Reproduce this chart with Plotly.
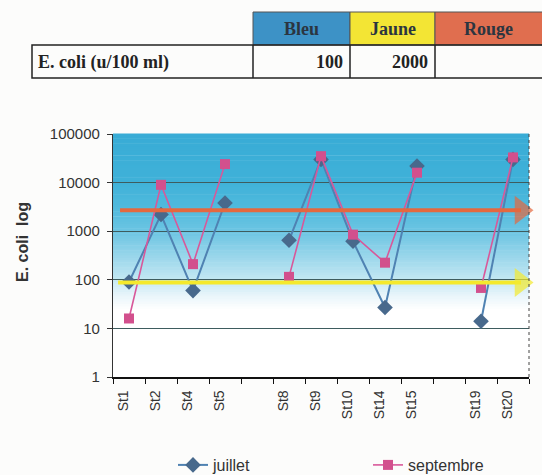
import numpy as np
import plotly.graph_objects as go

# Stations (les cases vides = stations non prélevées)
stations = ["St1", "St2", "St4", "St5", "", "St8", "St9", "St10", "St14", "St15", "", "St19", "St20"]

# E. coli (u/100 ml)
juillet = [90, 2200, 60, 3800, None, 650, 30000, 620, 27, 22000, None, 14, 30000]
septembre = [16, 9000, 210, 24000, None, 115, 35000, 850, 225, 16000, None, 68, 33000]

# seuils dessinés à la main (flèches)
seuil_orange = 2700
seuil_jaune = 88

# petit tableau du haut
tab_entetes = ["Bleu", "Jaune", "Rouge"]
tab_valeurs = ["100", "2000", ""]
tab_couleurs = ["#3d92c6", "#f3e534", "#e06e4f"]

W, H = 542, 475
x0px, x1px = 113, 529
ytop, ybot = 134, 377

x = list(range(len(stations)))

fig = go.Figure()

fig.add_trace(go.Scatter(
    x=x, y=juillet, name="juillet", mode="lines+markers",
    line=dict(color="#4f82b2", width=2),
    marker=dict(symbol="diamond", size=12, color="#48698c"),
    legend="legend",
))
fig.add_trace(go.Scatter(
    x=x, y=septembre, name="septembre", mode="lines+markers",
    line=dict(color="#d8589a", width=1.6),
    marker=dict(symbol="square", size=10, color="#d2508d"),
    legend="legend2",
))

# flèches des seuils
for val, col, xs in [(seuil_orange, "#e4683f", -0.28), (seuil_jaune, "#f4e92c", -0.34)]:
    fig.add_trace(go.Scatter(
        x=[xs, 12.25], y=[val, val], mode="lines+markers", showlegend=False,
        line=dict(color=col, width=4),
        marker=dict(symbol="triangle-right", size=[0, 25], color=col, line_width=0),
        cliponaxis=False, hoverinfo="skip",
    ))

# dégradé bleu du fond (de 10 à 100000)
stops = [(1.0, "#ffffff"), (1.4, "#ffffff"), (1.7, "#e6f5fa"), (2.0, "#c4e8f3"),
         (2.5, "#98d6eb"), (3.0, "#6cc5e3"), (3.5, "#50badd"), (4.0, "#40b2d9"), (5.0, "#39acd6")]
sl = [s[0] for s in stops]
rgb = [tuple(int(c[i:i + 2], 16) for i in (1, 3, 5)) for _, c in stops]
nb = 80
edges = np.linspace(1, 5, nb + 1)
shapes = []
for a, b in zip(edges[:-1], edges[1:]):
    m = (a + b) / 2
    c = [int(np.interp(m, sl, [r[k] for r in rgb])) for k in range(3)]
    shapes.append(dict(type="rect", xref="x domain", yref="y domain",
                       x0=0, x1=1, y0=a / 5, y1=b / 5 + 0.002,
                       fillcolor="rgb(%d,%d,%d)" % tuple(c), line_width=0, layer="below"))
# bord droit pointillé
shapes.append(dict(type="line", xref="x domain", yref="y domain", x0=1, x1=1, y0=0, y1=1,
                   line=dict(color="#444", width=1, dash="dot")))

# tableau
cols = [253, 350, 435, 545]
for i in range(3):
    shapes.append(dict(type="rect", xref="paper", yref="paper",
                       x0=cols[i] / W, x1=cols[i + 1] / W, y0=1 - 45 / H, y1=1 - 12 / H,
                       fillcolor=tab_couleurs[i], line=dict(color="#555", width=1)))
shapes.append(dict(type="rect", xref="paper", yref="paper",
                   x0=32 / W, x1=545 / W, y0=1 - 78 / H, y1=1 - 45 / H,
                   line=dict(color="#222", width=1.5)))
for c in cols[:3]:
    shapes.append(dict(type="line", xref="paper", yref="paper",
                       x0=c / W, x1=c / W, y0=1 - 78 / H, y1=1 - 45 / H,
                       line=dict(color="#222", width=1.5)))

ann = []
serif = dict(family="Liberation Serif", size=18, color="#222")
for i, t in enumerate(tab_entetes):
    ann.append(dict(text="<b>%s</b>" % t, xref="paper", yref="paper",
                    x=(cols[i] + min(cols[i + 1], W)) / 2 / W, y=1 - 29 / H,
                    xanchor="center", yanchor="middle",
                    showarrow=False, font=dict(family="Liberation Serif", size=18, color="#2b3540")))
for i, v in enumerate(tab_valeurs):
    ann.append(dict(text="<b>%s</b>" % v, xref="paper", yref="paper",
                    x=(cols[i + 1] - 5) / W, y=1 - 62 / H, xanchor="right", yanchor="middle",
                    showarrow=False, font=serif))
ann.append(dict(text="<b>E. coli (u/100 ml)</b>", xref="paper", yref="paper",
                x=36 / W, y=1 - 62 / H, xanchor="left", yanchor="middle",
                showarrow=False, font=serif))
ann.append(dict(text="<b>E. coli  log</b>", xref="paper", yref="paper",
                x=22 / W, y=1 - 242 / H, textangle=-90, showarrow=False,
                xanchor="center", yanchor="middle",
                font=dict(family="Liberation Sans", size=16, color="#333")))

leg = dict(orientation="h", y=1 - 465 / H, xanchor="left", yanchor="middle",
           bgcolor="rgba(0,0,0,0)", font=dict(size=16, color="#333"))
fig.update_layout(
    width=W, height=H,
    margin=dict(l=0, r=0, t=0, b=0, autoexpand=False),
    paper_bgcolor="#fcfcfb", plot_bgcolor="#ffffff",
    font=dict(family="Liberation Sans", size=14, color="#333"),
    shapes=shapes, annotations=ann,
    showlegend=True,
    legend=dict(leg, x=173 / W),
    legend2=dict(leg, x=368 / W),
)
fig.update_xaxes(
    domain=[x0px / W, x1px / W], range=[-0.5, 12.5],
    tickmode="array", tickvals=[i - 0.18 for i in x], ticktext=stations, tickangle=-90,
    ticks="", showgrid=False, zeroline=False, ticklabelstandoff=6,
    showline=True, linecolor="#111", linewidth=1.5,
    tickfont=dict(size=14, color="#333"), automargin=False,
    minor=dict(tickmode="array", tickvals=[i - 0.5 for i in range(len(stations) + 1)],
               ticks="outside", ticklen=5, tickcolor="#111", showgrid=False),
)
fig.update_yaxes(
    domain=[1 - ybot / H, 1 - ytop / H], type="log", range=[0, 5],
    tickmode="array", tickvals=[1, 10, 100, 1000, 10000, 100000],
    ticktext=["1", "10", "100", "1000", "10000", "100000"],
    ticks="outside", ticklen=5, tickcolor="#333", ticklabelstandoff=4,
    showgrid=True, gridcolor="#3e5c5e", gridwidth=1, zeroline=False,
    showline=True, linecolor="#333", linewidth=1.2, automargin=False,
    tickfont=dict(size=15, color="#333"),
)

fig.write_html("out.html", config={"displayModeBar": False},
               post_script="document.body.style.margin='0';")
